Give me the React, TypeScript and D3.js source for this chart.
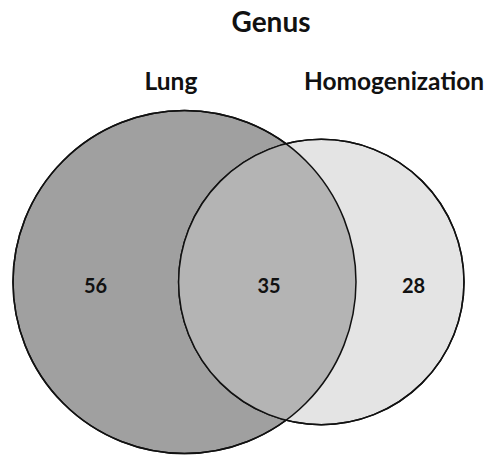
import React from "react";
import * as d3 from "d3";

const title = "Genus";
const setNames = ["Lung", "Homogenization"];
const regionCounts = [56, 35, 28]; // only Lung, both, only Homogenization
const fills = ["#a0a0a0", "#b4b4b4", "#e4e4e4"];

const W = 487;
const H = 455;

export default function App() {
  const totalA = regionCounts[0] + regionCounts[1];
  const totalB = regionCounts[2] + regionCounts[1];
  const rScale = d3.scaleSqrt().domain([0, totalA]).range([0, 171.5]);
  const r1 = rScale(totalA);
  const r2 = rScale(totalB);
  // horizontal layout scale: 0 = left edge of left circle, 1 = right edge of right circle
  const x = d3.scaleLinear().domain([0, 1]).range([13, 464]);
  const cx1 = x(0) + r1;
  const cx2 = x(1) - r2;
  const cy = 282;
  const d = cx2 - cx1;
  const a = (d * d + r1 * r1 - r2 * r2) / (2 * d);
  const h = Math.sqrt(r1 * r1 - a * a);
  const px = cx1 + a;
  const top = cy - h;
  const bot = cy + h;
  const lens = `M${px},${top} A${r2},${r2} 0 0 0 ${px},${bot} A${r1},${r1} 0 0 0 ${px},${top} Z`;

  const font = "Lato, 'Open Sans', sans-serif";
  return (
    <svg width={W} height={H} style={{ position: "absolute", left: 0, top: 0 }}>
      <rect width={W} height={H} fill="#fff" />
      <text x={271} y={32} textAnchor="middle" fontFamily={font} fontWeight="bold" fontSize={28} fill="#111">{title}</text>
      <text x={171} y={90} textAnchor="middle" fontFamily={font} fontWeight="bold" fontSize={24.5} fill="#111">{setNames[0]}</text>
      <text x={394} y={90} textAnchor="middle" fontFamily={font} fontWeight="bold" fontSize={24.5} fill="#111">{setNames[1]}</text>
      <circle cx={cx1} cy={cy} r={r1} fill={fills[0]} stroke="#111" strokeWidth={1.5} />
      <circle cx={cx2} cy={cy} r={r2} fill={fills[2]} stroke="#111" strokeWidth={1.5} />
      <path d={lens} fill={fills[1]} stroke="none" />
      <circle cx={cx1} cy={cy} r={r1} fill="none" stroke="#111" strokeWidth={1.5} />
      <circle cx={cx2} cy={cy} r={r2} fill="none" stroke="#111" strokeWidth={1.5} />
      <text x={95.5} y={293} textAnchor="middle" fontFamily={font} fontWeight="bold" fontSize={20} fill="#111">{regionCounts[0]}</text>
      <text x={269} y={293} textAnchor="middle" fontFamily={font} fontWeight="bold" fontSize={20} fill="#111">{regionCounts[1]}</text>
      <text x={413.5} y={293} textAnchor="middle" fontFamily={font} fontWeight="bold" fontSize={20} fill="#111">{regionCounts[2]}</text>
    </svg>
  );
}
